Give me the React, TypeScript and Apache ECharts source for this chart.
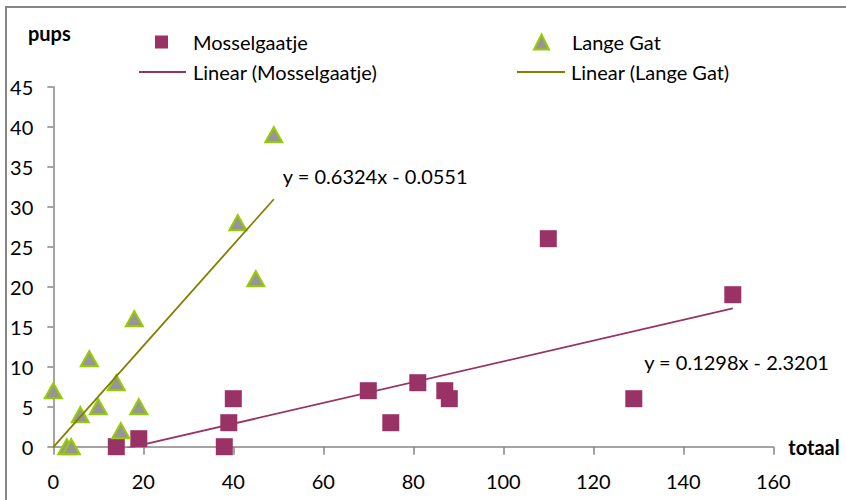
import React, { useEffect, useRef } from "react";
import * as echarts from "echarts";

// Mosselgaatje: totaal vs pups
const mosselTotaal = [14, 19, 38, 39, 40, 70, 75, 81, 87, 88, 110, 129, 151];
const mosselPups = [0, 1, 0, 3, 6, 7, 3, 8, 7, 6, 26, 6, 19];

// Lange Gat: totaal vs pups
const langeTotaal = [0, 3, 4, 6, 8, 10, 14, 15, 18, 19, 41, 45, 49];
const langePups = [7, 0, 0, 4, 11, 5, 8, 2, 16, 5, 28, 21, 39];

// Linear trend lines [Mosselgaatje, Lange Gat]
const trendSlope = [0.1298, 0.6324];
const trendIntercept = [-2.3201, -0.0551];
// where each equation label sits, in data units
const eqLabelAt = [
  [131.3, 10.6],
  [51, 33.8],
];

const xTicks = { min: 0, max: 160, interval: 20 };
const yTicks = { min: 0, max: 45, interval: 5 };

const FONT = "Lato, 'Open Sans', sans-serif";
const FS = 20;
const MOSSEL_COLOR = "#993366";
const LANGE_FILL = "#969696";
const LANGE_EDGE = "#99CC00";
const LANGE_LINE = "#808000";
const AXIS_GRAY = "#868686";

const pairs = (xs: number[], ys: number[]) => xs.map((x, i) => [x, ys[i]]);

const equation = (m: number, b: number) =>
  `y = ${m.toFixed(4)}x ${b < 0 ? "-" : "+"} ${Math.abs(b).toFixed(4)}`;

function trendSeries(name: string, idx: number, xs: number[], color: string, z: number) {
  const m = trendSlope[idx];
  const b = trendIntercept[idx];
  const x0 = Math.min(...xs);
  const x1 = Math.max(...xs);
  return {
    name,
    type: "line",
    data: [
      [x0, m * x0 + b],
      [x1, m * x1 + b],
    ],
    symbol: "none",
    showSymbol: false,
    clip: true,
    z,
    lineStyle: { color, width: 1.8 },
    itemStyle: { color },
    markPoint: {
      symbol: "circle",
      symbolSize: 0,
      data: [{ coord: eqLabelAt[idx], value: 0 }],
      label: {
        show: true,
        position: "right",
        distance: 0,
        formatter: () => equation(m, b),
        color: "#000",
        fontSize: FS,
        fontFamily: FONT,
      },
    },
  };
}

export default function App() {
  const ref = useRef<HTMLDivElement>(null);

  useEffect(() => {
    if (!ref.current) return;
    const chart = echarts.init(ref.current, undefined, { renderer: "svg" });

    const legendText = (pad: number) => ({
      color: "#000",
      fontSize: FS,
      fontFamily: FONT,
      lineHeight: 22,
      padding: [0, 0, 0, pad],
    });

    chart.setOption({
      animation: false,
      backgroundColor: "#fff",
      grid: { left: 53.3, right: 72.7, top: 86.7, bottom: 53.3 },
      graphic: [
        {
          type: "rect",
          shape: { x: 6, y: 7, width: 900, height: 600 },
          style: { fill: "none", stroke: "#878787", lineWidth: 2 },
          silent: true,
        },
      ],
      legend: [
        {
          data: ["Mosselgaatje"],
          left: 155,
          top: 31,
          padding: 0,
          icon: "rect",
          itemWidth: 13,
          itemHeight: 13,
          textStyle: legendText(20),
        },
        {
          data: ["Lange Gat"],
          left: 533,
          top: 31,
          padding: 0,
          icon: "triangle",
          itemWidth: 15,
          itemHeight: 15,
          textStyle: legendText(18),
        },
        {
          data: ["Linear (Mosselgaatje)"],
          left: 139,
          top: 61,
          padding: 0,
          icon: "rect",
          itemWidth: 47,
          itemHeight: 2,
          textStyle: legendText(2),
        },
        {
          data: ["Linear (Lange Gat)"],
          left: 517,
          top: 61,
          padding: 0,
          icon: "rect",
          itemWidth: 48,
          itemHeight: 2,
          textStyle: legendText(1),
        },
      ],
      xAxis: {
        type: "value",
        ...xTicks,
        name: "totaal",
        nameLocation: "end",
        nameGap: 15,
        nameTextStyle: {
          color: "#000",
          fontSize: FS,
          fontWeight: "bold",
          fontFamily: FONT,
          align: "left",
          verticalAlign: "middle",
        },
        axisLine: { show: true, lineStyle: { color: AXIS_GRAY, width: 1.5 } },
        axisTick: { show: true, inside: false, length: 8, lineStyle: { color: AXIS_GRAY, width: 1.5 } },
        axisLabel: { color: "#000", fontSize: FS, fontFamily: FONT, margin: 24 },
        splitLine: { show: false },
      },
      yAxis: {
        type: "value",
        ...yTicks,
        name: "pups",
        nameLocation: "end",
        nameGap: 54,
        nameTextStyle: {
          color: "#000",
          fontSize: FS,
          fontWeight: "bold",
          fontFamily: FONT,
          align: "center",
          verticalAlign: "middle",
          padding: [0, 8, 0, 0],
        },
        axisLine: { show: true, lineStyle: { color: AXIS_GRAY, width: 1.5 } },
        axisTick: { show: true, inside: false, length: 6, lineStyle: { color: AXIS_GRAY, width: 1.5 } },
        axisLabel: { color: "#000", fontSize: FS, fontFamily: FONT, margin: 20 },
        splitLine: { show: false },
      },
      series: [
        trendSeries("Linear (Mosselgaatje)", 0, mosselTotaal, MOSSEL_COLOR, 2),
        {
          name: "Mosselgaatje",
          type: "scatter",
          data: pairs(mosselTotaal, mosselPups),
          symbol: "rect",
          symbolSize: 17,
          z: 3,
          itemStyle: { color: MOSSEL_COLOR, opacity: 1 },
        },
        {
          name: "Lange Gat",
          type: "scatter",
          data: pairs(langeTotaal, langePups),
          symbol: "triangle",
          symbolSize: [17, 15],
          z: 4,
          itemStyle: { color: LANGE_FILL, borderColor: LANGE_EDGE, borderWidth: 2, opacity: 1 },
        },
        trendSeries("Linear (Lange Gat)", 1, langeTotaal, LANGE_LINE, 5),
      ],
    });

    return () => chart.dispose();
  }, []);

  return (
    <div
      ref={ref}
      style={{ position: "fixed", left: 0, top: 0, width: 846, height: 500, background: "#fff" }}
    />
  );
}
